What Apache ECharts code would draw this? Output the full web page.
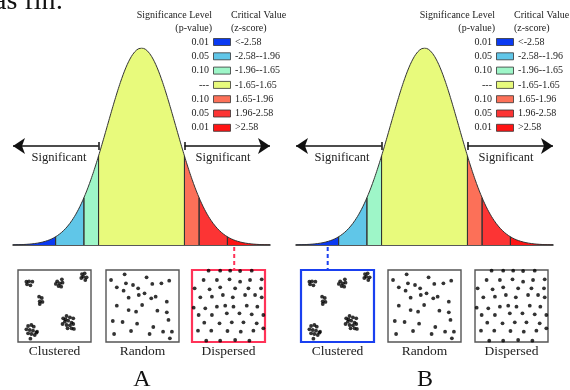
<!DOCTYPE html>
<html>
<head>
<meta charset="utf-8">
<script src="https://cdn.jsdelivr.net/npm/echarts@6/dist/echarts.min.js"></script>
<style>
  html, body { margin: 0; background: #fff; }
  #chart { width: 570px; height: 390px; }
</style>
</head>
<body>
<div id="chart"></div>
<script>
// Legend rows
const pValues = ['0.01', '0.05', '0.10', '---', '0.10', '0.05', '0.01']
const zRanges = ['<-2.58', '-2.58--1.96', '-1.96--1.65', '-1.65-1.65', '1.65-1.96', '1.96-2.58', '>2.58']
const regionColors = ['#0a3af2', '#60c6e8', '#9ef6c8', '#e8fa7c', '#fc7058', '#fc3434', '#ff1414']
// Region edges as drawn in the picture, in sigma units of the curve
const regionEdges = [-3.77, -2.52, -1.69, -1.26, 1.26, 1.69, 2.52, 3.77]

// Point patterns, box coordinates 0..100 (y downwards)
const patternNames = ['Clustered', 'Random', 'Dispersed']
const clusteredDots = [
  [11.5, 16.2], [15.1, 15.7], [19.7, 16.2], [12.4, 19.9], [17, 21.3],
  [53.7, 15.7], [60.1, 13], [57.3, 18.5], [51.8, 19.4], [55.5, 22.2], [61, 17.6], [59.2, 23.1],
  [87.6, 5.6], [91.3, 4.6], [89.4, 9.3], [94, 10.2], [86.7, 11.1], [92.2, 13.9],
  [28.9, 37], [32.6, 38.9], [29.8, 43.5], [33.5, 44.4], [29.8, 47.2],
  [61.9, 67.1], [66.5, 63.9], [71.1, 65.7], [75.7, 67.1], [64.2, 71.8], [68.8, 70.4], [73.4, 73.1],
  [61, 75], [66.5, 76.4], [71.1, 76.9], [75.7, 75], [67.9, 81], [73.4, 81], [76.6, 81.9], [65.1, 68.5],
  [13.8, 77.8], [18.3, 76.4], [21.6, 78.7], [11.5, 82.4], [16.1, 83.3], [20.6, 84.3], [25.2, 87],
  [13.8, 88], [18.3, 88.9], [22.9, 90.3], [17, 95.4], [26.1, 85.6]
]
const randomDots = [
  [6.9, 13.9], [25.5, 6], [14.8, 24.1], [27.3, 18.5], [24.1, 28.7], [37, 20.8], [44, 25.5],
  [55.6, 10.2], [63.4, 19.4], [75.9, 18.5], [86.6, 14.8], [31, 38.4], [44.9, 34.7], [52.8, 32.4],
  [62, 39.4], [68, 37], [83.3, 44], [14.8, 49.5], [31, 55.6], [41.2, 57.9], [49.5, 48.6],
  [70.4, 56.5], [83.3, 58.8], [9.3, 70.8], [22.7, 72.2], [42.6, 74.5], [85.6, 69.4], [11.1, 88.9],
  [34.3, 84.7], [59.7, 88.9], [64.8, 79.2], [78.2, 85.6], [90.3, 85.6], [87.5, 94.9]
]
const dispersedDots = [
  [22.7, 0.9], [38.6, 0.9], [52.3, 0.9], [65.9, 1.4], [81.8, 0.9],
  [15.9, 13.9], [34.1, 13.9], [51.4, 13], [65.9, 16.2], [79.5, 13.9], [95.5, 13],
  [3.6, 25.5], [24.1, 26.9], [38.6, 24.1], [59.1, 25.5], [77.3, 25.5], [94.5, 25.5],
  [11.4, 38], [27.3, 37], [42.3, 34.7], [55.9, 38], [72.7, 34.7], [86.4, 34.7], [95.5, 38],
  [2.3, 52.3], [18.2, 53.2], [34.1, 50.9], [45.5, 49.5], [56.8, 50.9], [75, 49.5], [89.5, 50.9],
  [9.1, 62.5], [27.3, 62.5], [47.7, 60.2], [65, 60.2], [81.8, 61.6], [97.7, 62.5],
  [16.8, 73.1], [37.7, 74.1], [54.5, 72.7], [70.5, 72.7], [88.6, 74.1],
  [8.2, 84.3], [26.4, 84.3], [48.6, 84.7], [66.8, 85.6], [84.1, 84.3], [97.7, 81],
  [19.5, 98.1], [38.6, 98.1], [59.1, 97.2], [78.6, 98.1]
]
const patternDots = [clusteredDots, randomDots, dispersedDots]

// Panels: label, highlighted box, highlight colour, connector position (sigma units)
const panelLabels = ['A', 'B']
const panelHighlight = [2, 0]
const highlightColors = ['#ff3358', '#1a40f0']
const connectorZ = [2.72, -2.84]

const SERIF = "'Liberation Serif', 'DejaVu Serif', serif"
const panelShift = [0, 283]
const boxLeft = [[18, 106, 192], [301, 388, 475]]

// normal curve shape (the figure shows a standard bell curve)
const bell = z => Math.exp(-z * z / 2)

const curvePoints = (a, b) => {
  const pts = [[a, 0]]
  const steps = Math.max(4, Math.round((b - a) / 0.02))
  for (let i = 0; i <= steps; i++) {
    const z = a + (b - a) * i / steps
    pts.push([z, bell(z)])
  }
  pts.push([b, 0])
  return pts
}

const chart = echarts.init(document.getElementById('chart'), null, { renderer: 'canvas' })

const grids = []
const xAxes = []
const yAxes = []
const series = []
const graphics = []

panelLabels.forEach((label, p) => {
  const dx = panelShift[p]
  const gi = grids.length
  grids.push({ left: 13 + dx, top: 48, width: 257, height: 197 })
  xAxes.push({
    gridIndex: gi, type: 'value', min: -3.77, max: 3.77,
    axisLine: { show: true, lineStyle: { color: '#222', width: 1.5 } },
    axisTick: { show: false }, axisLabel: { show: false }, splitLine: { show: false }
  })
  yAxes.push({
    gridIndex: gi, type: 'value', min: 0, max: 1, show: false, splitLine: { show: false }
  })

  regionColors.forEach((c, r) => {
    series.push({
      type: 'line', xAxisIndex: gi, yAxisIndex: gi,
      data: curvePoints(regionEdges[r], regionEdges[r + 1]),
      symbol: 'none', silent: true, animation: false,
      lineStyle: { color: '#333', width: 1 },
      areaStyle: { color: c, opacity: 1 },
      z: 2
    })
  })

  // arrows with end ticks
  const ay = 0.5025
  series.push({
    type: 'line', xAxisIndex: gi, yAxisIndex: gi, data: [], silent: true, animation: false,
    markLine: {
      silent: true, animation: false,
      label: { show: false },
      lineStyle: { color: '#111', width: 1.5, type: 'solid' },
      symbolSize: 12,
      data: [
        [{ coord: [-3.77, ay], symbol: 'arrow', symbolRotate: 90 }, { coord: [-1.26, ay], symbol: 'none' }],
        [{ coord: [1.26, ay], symbol: 'none' }, { coord: [3.77, ay], symbol: 'arrow' }],
        [{ coord: [-1.26, ay - 0.02], symbol: 'none' }, { coord: [-1.26, ay + 0.02], symbol: 'none' }],
        [{ coord: [1.26, ay - 0.02], symbol: 'none' }, { coord: [1.26, ay + 0.02], symbol: 'none' }]
      ]
    }
  })

  // pattern boxes
  patternDots.forEach((dots, k) => {
    const bi = grids.length
    const hi = panelHighlight[p] === k
    grids.push({
      left: boxLeft[p][k], top: 270, width: 73, height: 72, show: true,
      backgroundColor: '#fff',
      borderColor: hi ? highlightColors[p] : '#555',
      borderWidth: hi ? 2.2 : 1.4
    })
    xAxes.push({ gridIndex: bi, type: 'value', min: 0, max: 100, show: false })
    yAxes.push({ gridIndex: bi, type: 'value', min: 0, max: 100, inverse: true, show: false })
    series.push({
      type: 'scatter', xAxisIndex: bi, yAxisIndex: bi, data: dots,
      symbolSize: 3.8, itemStyle: { color: '#000' }, silent: true, animation: false,
      clip: false, z: 5
    })
    graphics.push({
      type: 'text', x: boxLeft[p][k] + 36.5, y: 351,
      style: { text: patternNames[k], font: '13.5px ' + SERIF, fill: '#222', align: 'center', verticalAlign: 'middle' }
    })
  })

  // connector from the curve to the highlighted box
  const cx = 13 + dx + (connectorZ[p] + 3.77) / 7.54 * 257
  graphics.push({
    type: 'line', shape: { x1: cx, y1: 247, x2: cx, y2: 270 },
    style: { stroke: highlightColors[p], lineWidth: 2, lineDash: [4, 3] }
  })

  // labels on the curve
  graphics.push(
    { type: 'text', x: 59 + dx, y: 158, style: { text: 'Significant', font: '12.5px ' + SERIF, fill: '#222', align: 'center', verticalAlign: 'middle' } },
    { type: 'text', x: 223 + dx, y: 158, style: { text: 'Significant', font: '12.5px ' + SERIF, fill: '#222', align: 'center', verticalAlign: 'middle' } },
    { type: 'text', x: 141.5 + dx, y: 155, style: { text: '(Random)', font: '12.5px ' + SERIF, fill: '#222', align: 'center', verticalAlign: 'middle' } },
    { type: 'text', x: 142 + dx, y: 380, style: { text: label, font: '24px ' + SERIF, fill: '#111', align: 'center', verticalAlign: 'middle' } }
  )

  // legend
  graphics.push(
    { type: 'text', x: 212 + dx, y: 15, style: { text: 'Significance Level', font: '10px ' + SERIF, fill: '#222', align: 'right', verticalAlign: 'middle' } },
    { type: 'text', x: 212 + dx, y: 28, style: { text: '(p-value)', font: '10px ' + SERIF, fill: '#222', align: 'right', verticalAlign: 'middle' } },
    { type: 'text', x: 231 + dx, y: 15, style: { text: 'Critical Value', font: '10px ' + SERIF, fill: '#222', align: 'left', verticalAlign: 'middle' } },
    { type: 'text', x: 231 + dx, y: 28, style: { text: '(z-score)', font: '10px ' + SERIF, fill: '#222', align: 'left', verticalAlign: 'middle' } }
  )
  pValues.forEach((pv, i) => {
    const ry = 42 + i * 14.3
    graphics.push(
      { type: 'text', x: 209 + dx, y: ry, style: { text: pv, font: '10px ' + SERIF, fill: '#222', align: 'right', verticalAlign: 'middle' } },
      { type: 'rect', shape: { x: 213.5 + dx, y: ry - 3.5, width: 17, height: 7 }, style: { fill: regionColors[i], stroke: '#333', lineWidth: 0.8 } },
      { type: 'text', x: 235 + dx, y: ry, style: { text: zRanges[i], font: '10px ' + SERIF, fill: '#222', align: 'left', verticalAlign: 'middle' } }
    )
  })
})

// cropped caption text at the very top
graphics.push({
  type: 'text', x: -6, y: 16,
  style: { text: 'as fin:', font: '28px ' + SERIF, fill: '#111', align: 'left', verticalAlign: 'bottom' }
})

chart.setOption({
  backgroundColor: '#fff',
  animation: false,
  grid: grids,
  xAxis: xAxes,
  yAxis: yAxes,
  series: series,
  graphic: graphics
})
</script>
</body>
</html>
